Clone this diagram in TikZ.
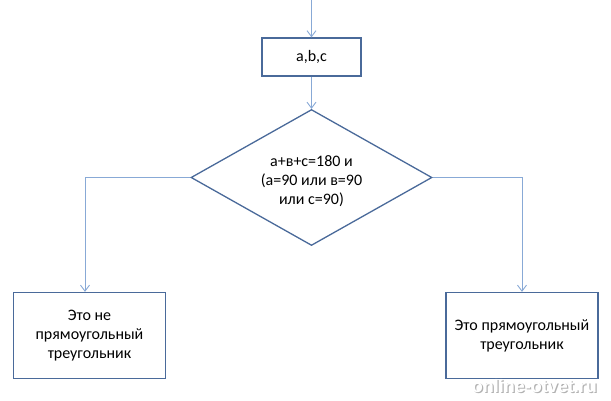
\documentclass[tikz,border=0pt]{standalone}
\usepackage{fontspec}
\setmainfont{Carlito}
\newfontfamily\wmfont{Liberation Sans}
\usetikzlibrary{shapes.geometric,arrows.meta}
\definecolor{boxc}{HTML}{4A6A9A}
\definecolor{arrc}{HTML}{88A9D6}
\tikzset{
  x=1pt,y=1pt,
  txt/.style={align=center,font=\fontsize{16}{19}\selectfont,inner sep=0pt},
  blk/.style={draw=boxc,line width=1.3pt,fill=white,txt,inner sep=2pt},
  dec/.style={draw=boxc,line width=1.3pt,fill=white,shape=diamond,minimum width=241,minimum height=136,inner sep=0pt},
  arr/.style={draw=arrc,line width=0.9pt,-{Straight Barb[length=6pt,width=9pt,line width=0.9pt]}},
  wmstyle/.style={font=\wmfont\bfseries\fontsize{18}{18}\selectfont},
}
\begin{document}
\begin{tikzpicture}
\useasboundingbox (0,0) rectangle (611,400);
\coordinate (start) at (311.5,400);
\node[blk,minimum width=99,minimum height=38] (abc) at (311.5,343) {a,b,c};
\node[dec] (dia) at (311.5,222.5) {};
\node[txt] (dtxt) at (311.5,219) {a+в+с=180 и\\(а=90 или в=90\\или с=90)};
\node[blk,minimum width=152,minimum height=86] (no) at (89.5,64.5) {Это не\\прямоугольный\\треугольник};
\node[blk,minimum width=152,minimum height=86] (yes) at (522,64.5) {Это прямоугольный\\треугольник};
\coordinate (nl) at ([xshift=-4.5]no.north);
\draw[arr] (start) -- (abc.north);
\draw[arr] (abc.south) -- (dia.north);
\draw[arr] (dia.west) -| (nl);
\draw[arr] (dia.east) -| (yes.north);
\node[wmstyle,text=gray!60] (wm0) at (535.5,13) {online-otvet.ru};
\node[wmstyle,text=white] (wm) at (534.3,14.2) {online-otvet.ru};
\end{tikzpicture}
\end{document}
